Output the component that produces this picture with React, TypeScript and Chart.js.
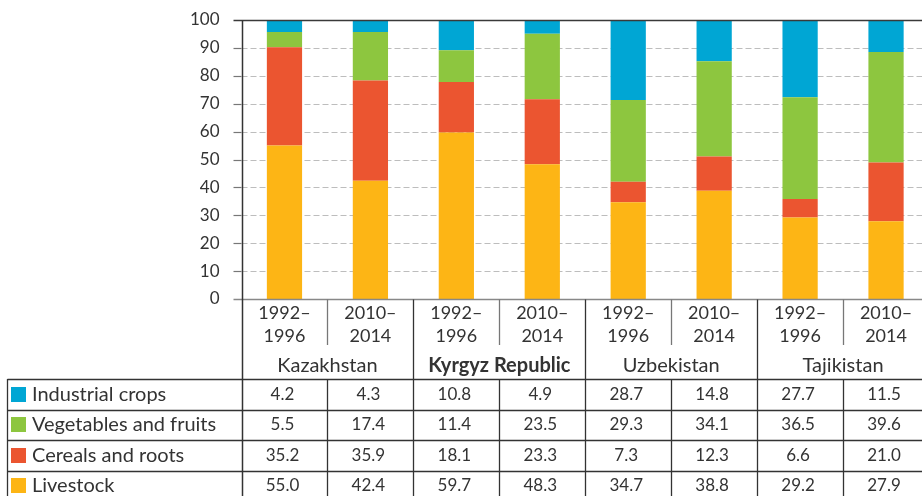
import React, { useEffect, useRef } from "react";
import { Chart, registerables } from "chart.js";

Chart.register(...registerables);

// ---- Data ----
const periodTop = ["1992–", "2010–", "1992–", "2010–", "1992–", "2010–", "1992–", "2010–"];
const periodBottom = ["1996", "2014", "1996", "2014", "1996", "2014", "1996", "2014"];
const categories = periodTop.map((p, i) => p + periodBottom[i]);
const countries = ["Kazakhstan", "Kyrgyz Republic", "Uzbekistan", "Tajikistan"];
const boldCountry = "Kyrgyz Republic";

const seriesNames = ["Industrial crops", "Vegetables and fruits", "Cereals and roots", "Livestock"];
const industrialCrops = [4.2, 4.3, 10.8, 4.9, 28.7, 14.8, 27.7, 11.5];
const vegetablesFruits = [5.5, 17.4, 11.4, 23.5, 29.3, 34.1, 36.5, 39.6];
const cerealsRoots = [35.2, 35.9, 18.1, 23.3, 7.3, 12.3, 6.6, 21.0];
const livestock = [55.0, 42.4, 59.7, 48.3, 34.7, 38.8, 29.2, 27.9];
const yTicks = [0, 10, 20, 30, 40, 50, 60, 70, 80, 90, 100];

const seriesColors = ["#00A6D4", "#8DC63F", "#EB5530", "#FDB515"];
const tableRows = [industrialCrops, vegetablesFruits, cerealsRoots, livestock];

const FONT = "Lato, 'Open Sans', sans-serif";
const TEXT = "#333333";

const decorPlugin = {
  id: "decor",
  beforeDatasetsDraw(chart: any) {
    const { ctx, chartArea, scales } = chart;
    const y = scales.y;
    const W = chart.width;
    ctx.save();
    yTicks.forEach((v) => {
      if (v === 0 || v === 100) return;
      const py = Math.round(y.getPixelForValue(v)) + 0.5;
      ctx.strokeStyle = "#777";
      ctx.lineWidth = 1.2;
      ctx.setLineDash([]);
      ctx.beginPath();
      ctx.moveTo(chartArea.left - 8, py);
      ctx.lineTo(chartArea.left, py);
      ctx.stroke();
      ctx.strokeStyle = "#bdbdbd";
      ctx.setLineDash([6, 3]);
      ctx.beginPath();
      ctx.moveTo(chartArea.left, py);
      ctx.lineTo(W, py);
      ctx.stroke();
    });
    ctx.restore();
  },
  afterDraw(chart: any) {
    const { ctx, chartArea, scales } = chart;
    const x = scales.x;
    const y = scales.y;
    const W = chart.width;
    const H = chart.height;
    const n = categories.length;
    ctx.save();
    ctx.setLineDash([]);

    // 0 and 100 lines
    const p0 = Math.round(y.getPixelForValue(0)) + 0.5;
    const p100 = Math.round(y.getPixelForValue(100)) + 0.5;
    ctx.lineWidth = 1.5;
    ctx.strokeStyle = "#888";
    ctx.beginPath();
    ctx.moveTo(chartArea.left - 8, p0);
    ctx.lineTo(W, p0);
    ctx.stroke();
    ctx.strokeStyle = "#3a3a3a";
    ctx.beginPath();
    ctx.moveTo(chartArea.left - 8, p100);
    ctx.lineTo(W, p100);
    ctx.stroke();

    // column boundaries
    const bounds: number[] = [];
    for (let i = 0; i <= n; i++) {
      if (i === 0) bounds.push(chartArea.left);
      else if (i === n) bounds.push(chartArea.right);
      else bounds.push((x.getPixelForValue(i - 1) + x.getPixelForValue(i)) / 2);
    }

    const yearTop = p0;
    const yearBottom = 345;
    const tableTop = 379;
    const rowH = 30.5;

    // y axis line
    ctx.strokeStyle = "#333";
    ctx.lineWidth = 1.5;
    ctx.beginPath();
    ctx.moveTo(Math.round(chartArea.left) + 0.5, p100);
    ctx.lineTo(Math.round(chartArea.left) + 0.5, H);
    ctx.stroke();

    for (let i = 1; i < n; i++) {
      const bx = Math.round(bounds[i]) + 0.5;
      ctx.lineWidth = 1.3;
      if (i % 2 === 1) {
        ctx.strokeStyle = "#777";
        ctx.beginPath();
        ctx.moveTo(bx, yearTop);
        ctx.lineTo(bx, yearBottom);
        ctx.stroke();
        ctx.strokeStyle = "#333";
        ctx.beginPath();
        ctx.moveTo(bx, tableTop);
        ctx.lineTo(bx, H);
        ctx.stroke();
      } else {
        ctx.strokeStyle = "#333";
        ctx.beginPath();
        ctx.moveTo(bx, yearTop);
        ctx.lineTo(bx, H);
        ctx.stroke();
      }
    }

    // horizontal table lines
    ctx.strokeStyle = "#333";
    ctx.lineWidth = 1.3;
    for (let r = 0; r <= tableRows.length; r++) {
      const ly = Math.round(tableTop + r * rowH) + 0.5;
      ctx.beginPath();
      ctx.moveTo(7.5, ly);
      ctx.lineTo(W, ly);
      ctx.stroke();
    }
    ctx.beginPath();
    ctx.moveTo(7.5, tableTop);
    ctx.lineTo(7.5, H);
    ctx.stroke();

    // year labels
    ctx.fillStyle = TEXT;
    ctx.textAlign = "center";
    ctx.textBaseline = "middle";
    ctx.font = `18px ${FONT}`;
    for (let i = 0; i < n; i++) {
      const cx = x.getPixelForValue(i);
      ctx.fillText(periodTop[i], cx, 313);
      ctx.fillText(periodBottom[i], cx, 336);
    }

    // country labels
    countries.forEach((c, k) => {
      const cx = (bounds[2 * k] + bounds[2 * k + 2]) / 2;
      ctx.font = `${c === boldCountry ? "bold " : ""}20px ${FONT}`;
      ctx.fillText(c, cx, 366);
    });

    // table rows
    tableRows.forEach((row, r) => {
      const cy = tableTop + r * rowH + rowH / 2;
      ctx.fillStyle = seriesColors[r];
      ctx.fillRect(11, Math.round(cy - 7.5), 15, 15);
      ctx.fillStyle = TEXT;
      ctx.textAlign = "left";
      ctx.font = `20px ${FONT}`;
      ctx.fillText(seriesNames[r], 32, cy);
      ctx.textAlign = "center";
      ctx.font = `17px ${FONT}`;
      row.forEach((v, i) => {
        ctx.fillText(v.toFixed(1), x.getPixelForValue(i) - 2, cy);
      });
    });

    ctx.restore();
  },
};

export default function App() {
  const ref = useRef<HTMLCanvasElement | null>(null);

  useEffect(() => {
    if (!ref.current) return;
    const stackOrder = [3, 2, 1, 0];
    const chart = new Chart(ref.current, {
      type: "bar",
      data: {
        labels: categories,
        datasets: stackOrder.map((s) => ({
          label: seriesNames[s],
          data: tableRows[s],
          backgroundColor: seriesColors[s],
          borderWidth: 0,
          categoryPercentage: 1,
          barPercentage: 0.41,
          stack: "a",
        })),
      },
      options: {
        responsive: false,
        maintainAspectRatio: false,
        animation: false,
        layout: { padding: { left: 0, right: 1, top: 20, bottom: 197 } },
        plugins: { legend: { display: false }, tooltip: { enabled: false } },
        scales: {
          x: {
            type: "category",
            display: false,
            stacked: true,
          },
          y: {
            stacked: true,
            min: 0,
            max: 100,
            afterFit: (s: any) => {
              s.width = 241.5;
              s.paddingTop = 0;
              s.paddingBottom = 0;
            },
            afterBuildTicks: (s: any) => {
              s.ticks = yTicks.map((v) => ({ value: v }));
            },
            grid: { display: false, drawTicks: false },
            border: { display: false },
            ticks: {
              padding: 22,
              color: TEXT,
              font: { family: FONT, size: 17 },
            },
          },
        },
      },
      plugins: [decorPlugin],
    });
    return () => chart.destroy();
  }, []);

  return (
    <div
      style={{
        position: "fixed",
        left: 0,
        top: 0,
        width: 922,
        height: 496,
        overflow: "hidden",
        background: "#fff",
      }}
    >
      <canvas ref={ref} width={930} height={496} style={{ display: "block" }} />
    </div>
  );
}
